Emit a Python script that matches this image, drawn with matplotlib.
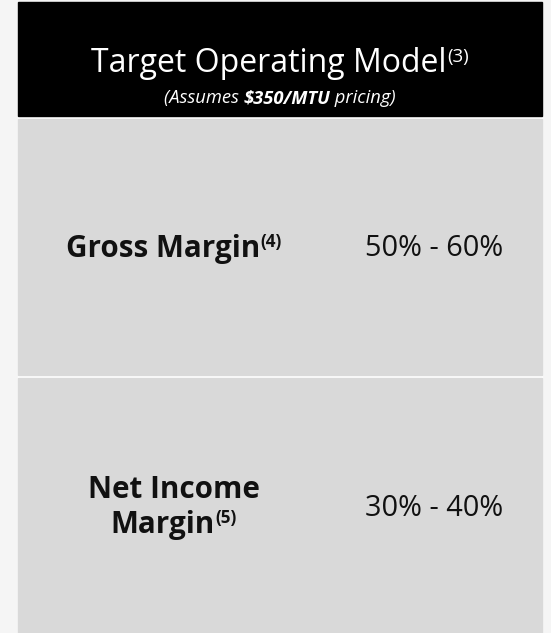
import matplotlib.pyplot as plt
from matplotlib.patches import Rectangle

# Texte
title = "Target Operating Model"
title_note = "(3)"
sub_parts = ["(Assumes ", "$350/MTU", " pricing)"]
metrics = [["Gross Margin"], ["Net Income", "Margin"]]
notes = ["(4)", "(5)"]
ranges = ["50% - 60%", "30% - 40%"]

plt.rcParams['font.family'] = ['Open Sans', 'DejaVu Sans']

fig = plt.figure(figsize=(5.51, 6.33), dpi=100)
fig.patch.set_facecolor('#f5f5f5')
ax = fig.add_axes([0, 0, 1, 1])
ax.set_xlim(0, 551)
ax.set_ylim(633, 0)
ax.axis('off')

# Kutular
ax.add_patch(Rectangle((18, 2), 524, 631, color='white'))
ax.add_patch(Rectangle((18, 2), 524, 114, color='black'))
panels = [(119, 374.7), (377.7, 633)]
for y0, y1 in panels:
    ax.add_patch(Rectangle((18, y0), 524, y1 - y0, color='#d9d9d9'))

r = fig.canvas.get_renderer()


def runs(cx, y, parts):
    # parts: (metin, stil, yukari kayma)
    arts = []
    for s, kw, dy in parts:
        arts.append(ax.text(0, y - dy, s, ha='left', va='baseline', **kw))
    widths = [t.get_window_extent(r).width for t in arts]
    x = cx - sum(widths) / 2
    for t, w in zip(arts, widths):
        t.set_x(x)
        x += w


runs(280, 72, [(title, dict(size=23, color='white'), 0),
               (title_note, dict(size=13.5, color='white'), 10)])
it = dict(size=13.2, style='italic', color='white')
bi = dict(size=13.2, style='italic', weight='bold', color='white')
runs(280, 103, [(sub_parts[0], it, 0), (sub_parts[1], bi, 0), (sub_parts[2], it, 0)])

bold = dict(size=21.3, weight='bold', color='#111111')
sup = dict(size=12.3, weight='bold', color='#111111')
label_base = [[256.5], [497.5, 533]]
value_base = [256.5, 516.5]
for i in range(len(metrics)):
    lines = metrics[i]
    for j, line in enumerate(lines):
        parts = [(line, bold, 0)]
        if j == len(lines) - 1:
            parts.append((notes[i], sup, 10))
        runs(173.5, label_base[i][j], parts)
    ax.text(434, value_base[i], ranges[i], ha='center', va='baseline',
            size=20.8, color='#111111')

fig.savefig('out.png', dpi=100, facecolor=fig.get_facecolor())
